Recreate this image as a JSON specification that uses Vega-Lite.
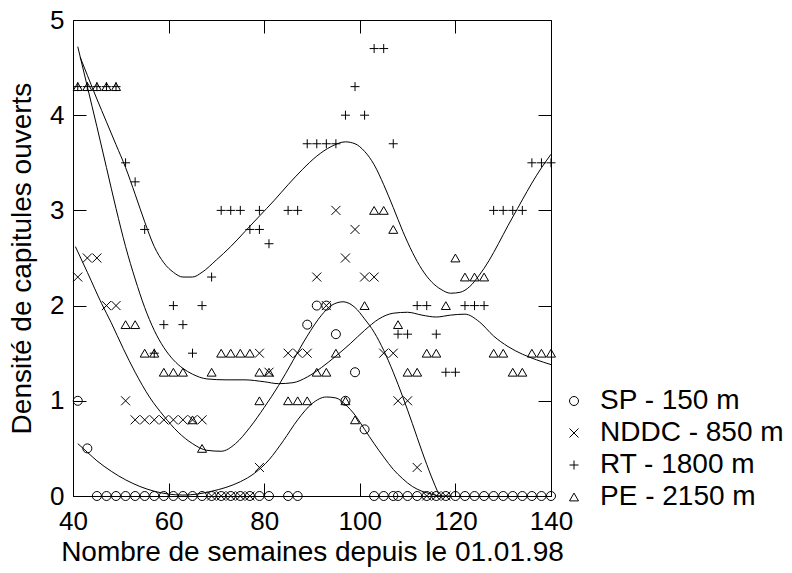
{
  "$schema": "https://vega.github.io/schema/vega-lite/v6.json",
  "width": 478,
  "height": 476,
  "autosize": {"type": "none"},
  "padding": {"left": 73, "top": 20, "right": 241, "bottom": 77},
  "background": "white",
  "config": {
    "view": {"stroke": "black", "strokeWidth": 1},
    "font": "Liberation Sans",
    "axis": {
      "grid": false,
      "domain": false,
      "tickColor": "black",
      "tickSize": -13,
      "tickWidth": 1,
      "labelFont": "Liberation Sans",
      "labelFontSize": 26,
      "labelColor": "black",
      "titleFont": "Liberation Sans",
      "titleFontSize": 28,
      "titleFontWeight": "normal",
      "titleColor": "black"
    },
    "legend": {
      "labelFont": "Liberation Sans",
      "labelFontSize": 28,
      "labelColor": "black",
      "labelLimit": 0,
      "padding": 0,
      "rowPadding": 4,
      "labelOffset": 12,
      "symbolStrokeColor": "black",
      "symbolStrokeWidth": 1,
      "symbolFillColor": "transparent"
    }
  },
  "datasets": {
    "points": [
      {"semaine": 41, "densite": 1.0, "site": "SP - 150 m"},
      {"semaine": 43, "densite": 0.5, "site": "SP - 150 m"},
      {"semaine": 45, "densite": 0, "site": "SP - 150 m"},
      {"semaine": 47, "densite": 0, "site": "SP - 150 m"},
      {"semaine": 49, "densite": 0, "site": "SP - 150 m"},
      {"semaine": 51, "densite": 0, "site": "SP - 150 m"},
      {"semaine": 53, "densite": 0, "site": "SP - 150 m"},
      {"semaine": 55, "densite": 0, "site": "SP - 150 m"},
      {"semaine": 57, "densite": 0, "site": "SP - 150 m"},
      {"semaine": 59, "densite": 0, "site": "SP - 150 m"},
      {"semaine": 61, "densite": 0, "site": "SP - 150 m"},
      {"semaine": 63, "densite": 0, "site": "SP - 150 m"},
      {"semaine": 65, "densite": 0, "site": "SP - 150 m"},
      {"semaine": 67, "densite": 0, "site": "SP - 150 m"},
      {"semaine": 69, "densite": 0, "site": "SP - 150 m"},
      {"semaine": 71, "densite": 0, "site": "SP - 150 m"},
      {"semaine": 73, "densite": 0, "site": "SP - 150 m"},
      {"semaine": 75, "densite": 0, "site": "SP - 150 m"},
      {"semaine": 77, "densite": 0, "site": "SP - 150 m"},
      {"semaine": 79, "densite": 0, "site": "SP - 150 m"},
      {"semaine": 81, "densite": 0, "site": "SP - 150 m"},
      {"semaine": 85, "densite": 0, "site": "SP - 150 m"},
      {"semaine": 87, "densite": 0, "site": "SP - 150 m"},
      {"semaine": 89, "densite": 1.8, "site": "SP - 150 m"},
      {"semaine": 91, "densite": 2.0, "site": "SP - 150 m"},
      {"semaine": 93, "densite": 2.0, "site": "SP - 150 m"},
      {"semaine": 95, "densite": 1.7, "site": "SP - 150 m"},
      {"semaine": 97, "densite": 1.0, "site": "SP - 150 m"},
      {"semaine": 99, "densite": 1.3, "site": "SP - 150 m"},
      {"semaine": 101, "densite": 0.7, "site": "SP - 150 m"},
      {"semaine": 103, "densite": 0, "site": "SP - 150 m"},
      {"semaine": 105, "densite": 0, "site": "SP - 150 m"},
      {"semaine": 107, "densite": 0, "site": "SP - 150 m"},
      {"semaine": 108, "densite": 0, "site": "SP - 150 m"},
      {"semaine": 110, "densite": 0, "site": "SP - 150 m"},
      {"semaine": 112, "densite": 0, "site": "SP - 150 m"},
      {"semaine": 114, "densite": 0, "site": "SP - 150 m"},
      {"semaine": 116, "densite": 0, "site": "SP - 150 m"},
      {"semaine": 118, "densite": 0, "site": "SP - 150 m"},
      {"semaine": 120, "densite": 0, "site": "SP - 150 m"},
      {"semaine": 122, "densite": 0, "site": "SP - 150 m"},
      {"semaine": 124, "densite": 0, "site": "SP - 150 m"},
      {"semaine": 126, "densite": 0, "site": "SP - 150 m"},
      {"semaine": 128, "densite": 0, "site": "SP - 150 m"},
      {"semaine": 130, "densite": 0, "site": "SP - 150 m"},
      {"semaine": 132, "densite": 0, "site": "SP - 150 m"},
      {"semaine": 134, "densite": 0, "site": "SP - 150 m"},
      {"semaine": 136, "densite": 0, "site": "SP - 150 m"},
      {"semaine": 138, "densite": 0, "site": "SP - 150 m"},
      {"semaine": 140, "densite": 0, "site": "SP - 150 m"},

      {"semaine": 41, "densite": 2.3, "site": "NDDC - 850 m"},
      {"semaine": 43, "densite": 2.5, "site": "NDDC - 850 m"},
      {"semaine": 45, "densite": 2.5, "site": "NDDC - 850 m"},
      {"semaine": 47, "densite": 2.0, "site": "NDDC - 850 m"},
      {"semaine": 49, "densite": 2.0, "site": "NDDC - 850 m"},
      {"semaine": 51, "densite": 1.0, "site": "NDDC - 850 m"},
      {"semaine": 53, "densite": 0.8, "site": "NDDC - 850 m"},
      {"semaine": 55, "densite": 0.8, "site": "NDDC - 850 m"},
      {"semaine": 57, "densite": 0.8, "site": "NDDC - 850 m"},
      {"semaine": 59, "densite": 0.8, "site": "NDDC - 850 m"},
      {"semaine": 61, "densite": 0.8, "site": "NDDC - 850 m"},
      {"semaine": 63, "densite": 0.8, "site": "NDDC - 850 m"},
      {"semaine": 65, "densite": 0.8, "site": "NDDC - 850 m"},
      {"semaine": 67, "densite": 0.8, "site": "NDDC - 850 m"},
      {"semaine": 69, "densite": 0, "site": "NDDC - 850 m"},
      {"semaine": 71, "densite": 0, "site": "NDDC - 850 m"},
      {"semaine": 73, "densite": 0, "site": "NDDC - 850 m"},
      {"semaine": 75, "densite": 0, "site": "NDDC - 850 m"},
      {"semaine": 77, "densite": 0, "site": "NDDC - 850 m"},
      {"semaine": 79, "densite": 0.3, "site": "NDDC - 850 m"},
      {"semaine": 79, "densite": 1.5, "site": "NDDC - 850 m"},
      {"semaine": 81, "densite": 1.3, "site": "NDDC - 850 m"},
      {"semaine": 85, "densite": 1.5, "site": "NDDC - 850 m"},
      {"semaine": 87, "densite": 1.5, "site": "NDDC - 850 m"},
      {"semaine": 89, "densite": 1.5, "site": "NDDC - 850 m"},
      {"semaine": 91, "densite": 2.3, "site": "NDDC - 850 m"},
      {"semaine": 93, "densite": 2.0, "site": "NDDC - 850 m"},
      {"semaine": 95, "densite": 3.0, "site": "NDDC - 850 m"},
      {"semaine": 97, "densite": 2.5, "site": "NDDC - 850 m"},
      {"semaine": 99, "densite": 2.8, "site": "NDDC - 850 m"},
      {"semaine": 101, "densite": 2.3, "site": "NDDC - 850 m"},
      {"semaine": 103, "densite": 2.3, "site": "NDDC - 850 m"},
      {"semaine": 105, "densite": 1.5, "site": "NDDC - 850 m"},
      {"semaine": 107, "densite": 1.5, "site": "NDDC - 850 m"},
      {"semaine": 108, "densite": 1.0, "site": "NDDC - 850 m"},
      {"semaine": 110, "densite": 1.0, "site": "NDDC - 850 m"},
      {"semaine": 112, "densite": 0.3, "site": "NDDC - 850 m"},
      {"semaine": 114, "densite": 0, "site": "NDDC - 850 m"},
      {"semaine": 116, "densite": 0, "site": "NDDC - 850 m"},
      {"semaine": 118, "densite": 0, "site": "NDDC - 850 m"},

      {"semaine": 41, "densite": 4.3, "site": "RT - 1800 m"},
      {"semaine": 43, "densite": 4.3, "site": "RT - 1800 m"},
      {"semaine": 45, "densite": 4.3, "site": "RT - 1800 m"},
      {"semaine": 47, "densite": 4.3, "site": "RT - 1800 m"},
      {"semaine": 49, "densite": 4.3, "site": "RT - 1800 m"},
      {"semaine": 51, "densite": 3.5, "site": "RT - 1800 m"},
      {"semaine": 53, "densite": 3.3, "site": "RT - 1800 m"},
      {"semaine": 55, "densite": 2.8, "site": "RT - 1800 m"},
      {"semaine": 57, "densite": 1.5, "site": "RT - 1800 m"},
      {"semaine": 59, "densite": 1.8, "site": "RT - 1800 m"},
      {"semaine": 61, "densite": 2.0, "site": "RT - 1800 m"},
      {"semaine": 63, "densite": 1.8, "site": "RT - 1800 m"},
      {"semaine": 65, "densite": 1.5, "site": "RT - 1800 m"},
      {"semaine": 67, "densite": 2.0, "site": "RT - 1800 m"},
      {"semaine": 69, "densite": 2.3, "site": "RT - 1800 m"},
      {"semaine": 71, "densite": 3.0, "site": "RT - 1800 m"},
      {"semaine": 73, "densite": 3.0, "site": "RT - 1800 m"},
      {"semaine": 75, "densite": 3.0, "site": "RT - 1800 m"},
      {"semaine": 77, "densite": 2.8, "site": "RT - 1800 m"},
      {"semaine": 79, "densite": 2.8, "site": "RT - 1800 m"},
      {"semaine": 79, "densite": 3.0, "site": "RT - 1800 m"},
      {"semaine": 81, "densite": 2.65, "site": "RT - 1800 m"},
      {"semaine": 85, "densite": 3.0, "site": "RT - 1800 m"},
      {"semaine": 87, "densite": 3.0, "site": "RT - 1800 m"},
      {"semaine": 89, "densite": 3.7, "site": "RT - 1800 m"},
      {"semaine": 91, "densite": 3.7, "site": "RT - 1800 m"},
      {"semaine": 93, "densite": 3.7, "site": "RT - 1800 m"},
      {"semaine": 95, "densite": 3.7, "site": "RT - 1800 m"},
      {"semaine": 97, "densite": 4.0, "site": "RT - 1800 m"},
      {"semaine": 99, "densite": 4.3, "site": "RT - 1800 m"},
      {"semaine": 101, "densite": 4.0, "site": "RT - 1800 m"},
      {"semaine": 103, "densite": 4.7, "site": "RT - 1800 m"},
      {"semaine": 105, "densite": 4.7, "site": "RT - 1800 m"},
      {"semaine": 107, "densite": 3.7, "site": "RT - 1800 m"},
      {"semaine": 108, "densite": 1.7, "site": "RT - 1800 m"},
      {"semaine": 110, "densite": 1.7, "site": "RT - 1800 m"},
      {"semaine": 112, "densite": 2.0, "site": "RT - 1800 m"},
      {"semaine": 114, "densite": 2.0, "site": "RT - 1800 m"},
      {"semaine": 116, "densite": 1.7, "site": "RT - 1800 m"},
      {"semaine": 118, "densite": 1.3, "site": "RT - 1800 m"},
      {"semaine": 120, "densite": 1.3, "site": "RT - 1800 m"},
      {"semaine": 122, "densite": 2.0, "site": "RT - 1800 m"},
      {"semaine": 124, "densite": 2.0, "site": "RT - 1800 m"},
      {"semaine": 126, "densite": 2.0, "site": "RT - 1800 m"},
      {"semaine": 128, "densite": 3.0, "site": "RT - 1800 m"},
      {"semaine": 130, "densite": 3.0, "site": "RT - 1800 m"},
      {"semaine": 132, "densite": 3.0, "site": "RT - 1800 m"},
      {"semaine": 134, "densite": 3.0, "site": "RT - 1800 m"},
      {"semaine": 136, "densite": 3.5, "site": "RT - 1800 m"},
      {"semaine": 138, "densite": 3.5, "site": "RT - 1800 m"},
      {"semaine": 140, "densite": 3.5, "site": "RT - 1800 m"},

      {"semaine": 41, "densite": 4.3, "site": "PE - 2150 m"},
      {"semaine": 43, "densite": 4.3, "site": "PE - 2150 m"},
      {"semaine": 45, "densite": 4.3, "site": "PE - 2150 m"},
      {"semaine": 47, "densite": 4.3, "site": "PE - 2150 m"},
      {"semaine": 49, "densite": 4.3, "site": "PE - 2150 m"},
      {"semaine": 51, "densite": 1.8, "site": "PE - 2150 m"},
      {"semaine": 53, "densite": 1.8, "site": "PE - 2150 m"},
      {"semaine": 55, "densite": 1.5, "site": "PE - 2150 m"},
      {"semaine": 57, "densite": 1.5, "site": "PE - 2150 m"},
      {"semaine": 59, "densite": 1.3, "site": "PE - 2150 m"},
      {"semaine": 61, "densite": 1.3, "site": "PE - 2150 m"},
      {"semaine": 63, "densite": 1.3, "site": "PE - 2150 m"},
      {"semaine": 65, "densite": 0.8, "site": "PE - 2150 m"},
      {"semaine": 67, "densite": 0.5, "site": "PE - 2150 m"},
      {"semaine": 69, "densite": 1.3, "site": "PE - 2150 m"},
      {"semaine": 71, "densite": 1.5, "site": "PE - 2150 m"},
      {"semaine": 73, "densite": 1.5, "site": "PE - 2150 m"},
      {"semaine": 75, "densite": 1.5, "site": "PE - 2150 m"},
      {"semaine": 77, "densite": 1.5, "site": "PE - 2150 m"},
      {"semaine": 79, "densite": 1.3, "site": "PE - 2150 m"},
      {"semaine": 79, "densite": 1.0, "site": "PE - 2150 m"},
      {"semaine": 81, "densite": 1.3, "site": "PE - 2150 m"},
      {"semaine": 85, "densite": 1.0, "site": "PE - 2150 m"},
      {"semaine": 87, "densite": 1.0, "site": "PE - 2150 m"},
      {"semaine": 89, "densite": 1.0, "site": "PE - 2150 m"},
      {"semaine": 91, "densite": 1.3, "site": "PE - 2150 m"},
      {"semaine": 93, "densite": 1.3, "site": "PE - 2150 m"},
      {"semaine": 95, "densite": 1.5, "site": "PE - 2150 m"},
      {"semaine": 97, "densite": 1.0, "site": "PE - 2150 m"},
      {"semaine": 99, "densite": 0.8, "site": "PE - 2150 m"},
      {"semaine": 101, "densite": 2.0, "site": "PE - 2150 m"},
      {"semaine": 103, "densite": 3.0, "site": "PE - 2150 m"},
      {"semaine": 105, "densite": 3.0, "site": "PE - 2150 m"},
      {"semaine": 107, "densite": 2.8, "site": "PE - 2150 m"},
      {"semaine": 108, "densite": 1.8, "site": "PE - 2150 m"},
      {"semaine": 110, "densite": 1.3, "site": "PE - 2150 m"},
      {"semaine": 112, "densite": 1.3, "site": "PE - 2150 m"},
      {"semaine": 114, "densite": 1.5, "site": "PE - 2150 m"},
      {"semaine": 116, "densite": 1.5, "site": "PE - 2150 m"},
      {"semaine": 118, "densite": 2.0, "site": "PE - 2150 m"},
      {"semaine": 120, "densite": 2.5, "site": "PE - 2150 m"},
      {"semaine": 122, "densite": 2.3, "site": "PE - 2150 m"},
      {"semaine": 124, "densite": 2.3, "site": "PE - 2150 m"},
      {"semaine": 126, "densite": 2.3, "site": "PE - 2150 m"},
      {"semaine": 128, "densite": 1.5, "site": "PE - 2150 m"},
      {"semaine": 130, "densite": 1.5, "site": "PE - 2150 m"},
      {"semaine": 132, "densite": 1.3, "site": "PE - 2150 m"},
      {"semaine": 134, "densite": 1.3, "site": "PE - 2150 m"},
      {"semaine": 136, "densite": 1.5, "site": "PE - 2150 m"},
      {"semaine": 138, "densite": 1.5, "site": "PE - 2150 m"},
      {"semaine": 140, "densite": 1.5, "site": "PE - 2150 m"}
    ],
    "curves": [
      {"semaine": 41.5, "densite": 4.61, "courbe": "RT"},
      {"semaine": 43, "densite": 4.42, "courbe": "RT"},
      {"semaine": 45, "densite": 4.17, "courbe": "RT"},
      {"semaine": 47, "densite": 3.93, "courbe": "RT"},
      {"semaine": 49, "densite": 3.69, "courbe": "RT"},
      {"semaine": 51, "densite": 3.45, "courbe": "RT"},
      {"semaine": 53, "densite": 3.17, "courbe": "RT"},
      {"semaine": 55, "densite": 2.88, "courbe": "RT"},
      {"semaine": 57, "densite": 2.62, "courbe": "RT"},
      {"semaine": 59, "densite": 2.45, "courbe": "RT"},
      {"semaine": 61, "densite": 2.35, "courbe": "RT"},
      {"semaine": 63, "densite": 2.3, "courbe": "RT"},
      {"semaine": 65, "densite": 2.3, "courbe": "RT"},
      {"semaine": 67, "densite": 2.35, "courbe": "RT"},
      {"semaine": 70, "densite": 2.48, "courbe": "RT"},
      {"semaine": 73, "densite": 2.62, "courbe": "RT"},
      {"semaine": 76, "densite": 2.78, "courbe": "RT"},
      {"semaine": 79, "densite": 2.94, "courbe": "RT"},
      {"semaine": 82, "densite": 3.1, "courbe": "RT"},
      {"semaine": 85, "densite": 3.27, "courbe": "RT"},
      {"semaine": 88, "densite": 3.43, "courbe": "RT"},
      {"semaine": 91, "densite": 3.57, "courbe": "RT"},
      {"semaine": 94, "densite": 3.67, "courbe": "RT"},
      {"semaine": 97, "densite": 3.72, "courbe": "RT"},
      {"semaine": 99, "densite": 3.7, "courbe": "RT"},
      {"semaine": 101, "densite": 3.62, "courbe": "RT"},
      {"semaine": 103, "densite": 3.48, "courbe": "RT"},
      {"semaine": 105, "densite": 3.27, "courbe": "RT"},
      {"semaine": 107, "densite": 3.03, "courbe": "RT"},
      {"semaine": 109, "densite": 2.78, "courbe": "RT"},
      {"semaine": 111, "densite": 2.56, "courbe": "RT"},
      {"semaine": 113, "densite": 2.38, "courbe": "RT"},
      {"semaine": 115, "densite": 2.25, "courbe": "RT"},
      {"semaine": 117, "densite": 2.17, "courbe": "RT"},
      {"semaine": 119, "densite": 2.13, "courbe": "RT"},
      {"semaine": 121, "densite": 2.14, "courbe": "RT"},
      {"semaine": 123, "densite": 2.2, "courbe": "RT"},
      {"semaine": 125, "densite": 2.32, "courbe": "RT"},
      {"semaine": 127, "densite": 2.47, "courbe": "RT"},
      {"semaine": 129, "densite": 2.65, "courbe": "RT"},
      {"semaine": 131, "densite": 2.84, "courbe": "RT"},
      {"semaine": 133, "densite": 3.02, "courbe": "RT"},
      {"semaine": 135, "densite": 3.2, "courbe": "RT"},
      {"semaine": 137, "densite": 3.37, "courbe": "RT"},
      {"semaine": 139, "densite": 3.52, "courbe": "RT"},
      {"semaine": 140, "densite": 3.59, "courbe": "RT"},

      {"semaine": 41, "densite": 4.72, "courbe": "PE"},
      {"semaine": 43, "densite": 4.3, "courbe": "PE"},
      {"semaine": 45, "densite": 3.88, "courbe": "PE"},
      {"semaine": 47, "densite": 3.45, "courbe": "PE"},
      {"semaine": 49, "densite": 3.02, "courbe": "PE"},
      {"semaine": 51, "densite": 2.62, "courbe": "PE"},
      {"semaine": 53, "densite": 2.28, "courbe": "PE"},
      {"semaine": 55, "densite": 1.98, "courbe": "PE"},
      {"semaine": 57, "densite": 1.74, "courbe": "PE"},
      {"semaine": 59, "densite": 1.56, "courbe": "PE"},
      {"semaine": 61, "densite": 1.43, "courbe": "PE"},
      {"semaine": 63, "densite": 1.34, "courbe": "PE"},
      {"semaine": 65, "densite": 1.28, "courbe": "PE"},
      {"semaine": 68, "densite": 1.23, "courbe": "PE"},
      {"semaine": 72, "densite": 1.22, "courbe": "PE"},
      {"semaine": 76, "densite": 1.22, "courbe": "PE"},
      {"semaine": 80, "densite": 1.2, "courbe": "PE"},
      {"semaine": 83, "densite": 1.18, "courbe": "PE"},
      {"semaine": 86, "densite": 1.19, "courbe": "PE"},
      {"semaine": 89, "densite": 1.25, "courbe": "PE"},
      {"semaine": 92, "densite": 1.35, "courbe": "PE"},
      {"semaine": 95, "densite": 1.47, "courbe": "PE"},
      {"semaine": 98, "densite": 1.6, "courbe": "PE"},
      {"semaine": 101, "densite": 1.74, "courbe": "PE"},
      {"semaine": 104, "densite": 1.86, "courbe": "PE"},
      {"semaine": 107, "densite": 1.92, "courbe": "PE"},
      {"semaine": 110, "densite": 1.93, "courbe": "PE"},
      {"semaine": 113, "densite": 1.9, "courbe": "PE"},
      {"semaine": 116, "densite": 1.88, "courbe": "PE"},
      {"semaine": 119, "densite": 1.9, "courbe": "PE"},
      {"semaine": 122, "densite": 1.91, "courbe": "PE"},
      {"semaine": 125, "densite": 1.83, "courbe": "PE"},
      {"semaine": 128, "densite": 1.68, "courbe": "PE"},
      {"semaine": 131, "densite": 1.57, "courbe": "PE"},
      {"semaine": 134, "densite": 1.49, "courbe": "PE"},
      {"semaine": 137, "densite": 1.43, "courbe": "PE"},
      {"semaine": 140, "densite": 1.38, "courbe": "PE"},

      {"semaine": 40.5, "densite": 2.62, "courbe": "NDDC"},
      {"semaine": 43, "densite": 2.35, "courbe": "NDDC"},
      {"semaine": 46, "densite": 2.02, "courbe": "NDDC"},
      {"semaine": 48, "densite": 1.82, "courbe": "NDDC"},
      {"semaine": 50.5, "densite": 1.55, "courbe": "NDDC"},
      {"semaine": 53, "densite": 1.3, "courbe": "NDDC"},
      {"semaine": 56, "densite": 1.04, "courbe": "NDDC"},
      {"semaine": 59, "densite": 0.84, "courbe": "NDDC"},
      {"semaine": 62, "densite": 0.67, "courbe": "NDDC"},
      {"semaine": 65, "densite": 0.55, "courbe": "NDDC"},
      {"semaine": 68, "densite": 0.48, "courbe": "NDDC"},
      {"semaine": 71, "densite": 0.47, "courbe": "NDDC"},
      {"semaine": 74, "densite": 0.55, "courbe": "NDDC"},
      {"semaine": 77, "densite": 0.72, "courbe": "NDDC"},
      {"semaine": 80, "densite": 0.93, "courbe": "NDDC"},
      {"semaine": 83, "densite": 1.16, "courbe": "NDDC"},
      {"semaine": 86, "densite": 1.42, "courbe": "NDDC"},
      {"semaine": 89, "densite": 1.68, "courbe": "NDDC"},
      {"semaine": 92, "densite": 1.9, "courbe": "NDDC"},
      {"semaine": 94, "densite": 2.0, "courbe": "NDDC"},
      {"semaine": 96.5, "densite": 2.04, "courbe": "NDDC"},
      {"semaine": 99, "densite": 1.98, "courbe": "NDDC"},
      {"semaine": 101, "densite": 1.86, "courbe": "NDDC"},
      {"semaine": 103, "densite": 1.72, "courbe": "NDDC"},
      {"semaine": 105, "densite": 1.53, "courbe": "NDDC"},
      {"semaine": 107, "densite": 1.3, "courbe": "NDDC"},
      {"semaine": 109, "densite": 1.04, "courbe": "NDDC"},
      {"semaine": 111, "densite": 0.76, "courbe": "NDDC"},
      {"semaine": 113, "densite": 0.47, "courbe": "NDDC"},
      {"semaine": 115, "densite": 0.2, "courbe": "NDDC"},
      {"semaine": 116.5, "densite": 0.02, "courbe": "NDDC"},

      {"semaine": 41, "densite": 0.55, "courbe": "SP"},
      {"semaine": 43, "densite": 0.46, "courbe": "SP"},
      {"semaine": 45, "densite": 0.37, "courbe": "SP"},
      {"semaine": 48, "densite": 0.26, "courbe": "SP"},
      {"semaine": 51, "densite": 0.17, "courbe": "SP"},
      {"semaine": 54, "densite": 0.1, "courbe": "SP"},
      {"semaine": 57, "densite": 0.05, "courbe": "SP"},
      {"semaine": 60, "densite": 0.02, "courbe": "SP"},
      {"semaine": 63, "densite": 0.01, "courbe": "SP"},
      {"semaine": 66, "densite": 0.02, "courbe": "SP"},
      {"semaine": 69, "densite": 0.05, "courbe": "SP"},
      {"semaine": 72, "densite": 0.09, "courbe": "SP"},
      {"semaine": 75, "densite": 0.15, "courbe": "SP"},
      {"semaine": 78, "densite": 0.24, "courbe": "SP"},
      {"semaine": 81, "densite": 0.38, "courbe": "SP"},
      {"semaine": 84, "densite": 0.58, "courbe": "SP"},
      {"semaine": 87, "densite": 0.8, "courbe": "SP"},
      {"semaine": 90, "densite": 0.97, "courbe": "SP"},
      {"semaine": 93, "densite": 1.04, "courbe": "SP"},
      {"semaine": 95, "densite": 1.03, "courbe": "SP"},
      {"semaine": 97, "densite": 0.96, "courbe": "SP"},
      {"semaine": 99, "densite": 0.85, "courbe": "SP"},
      {"semaine": 101, "densite": 0.7, "courbe": "SP"},
      {"semaine": 103, "densite": 0.55, "courbe": "SP"},
      {"semaine": 105, "densite": 0.41, "courbe": "SP"},
      {"semaine": 107, "densite": 0.28, "courbe": "SP"},
      {"semaine": 109, "densite": 0.18, "courbe": "SP"},
      {"semaine": 111, "densite": 0.1, "courbe": "SP"},
      {"semaine": 113, "densite": 0.05, "courbe": "SP"},
      {"semaine": 115, "densite": 0.02, "courbe": "SP"},
      {"semaine": 117, "densite": 0.0, "courbe": "SP"},
      {"semaine": 119, "densite": 0.0, "courbe": "SP"}
    ]
  },
  "layer": [
    {
      "data": {"name": "curves"},
      "mark": {"type": "line", "color": "black", "strokeWidth": 1, "interpolate": "monotone"},
      "encoding": {
        "x": {
          "field": "semaine", "type": "quantitative",
          "scale": {"domain": [40, 140], "nice": false, "zero": false},
          "axis": {"orient": "bottom", "values": [40, 60, 80, 100, 120, 140], "title": "Nombre de semaines depuis le 01.01.98", "labelFlush": false, "labelPadding": 25, "titlePadding": 4}
        },
        "y": {
          "field": "densite", "type": "quantitative",
          "scale": {"domain": [0, 5], "nice": false},
          "axis": {"orient": "left", "values": [0, 1, 2, 3, 4, 5], "title": "Densité de capitules ouverts", "labelFlush": false, "labelPadding": 22, "titlePadding": 13}
        },
        "detail": {"field": "courbe"}
      }
    },
    {
      "data": {"name": "points"},
      "mark": {"type": "point", "filled": false, "color": "black", "strokeWidth": 1, "opacity": 1},
      "encoding": {
        "x": {
          "field": "semaine", "type": "quantitative",
          "axis": {"orient": "top", "values": [40, 60, 80, 100, 120, 140], "labels": false, "title": null}
        },
        "y": {
          "field": "densite", "type": "quantitative",
          "axis": {"orient": "right", "values": [0, 1, 2, 3, 4, 5], "labels": false, "title": null}
        },
        "shape": {
          "field": "site", "type": "nominal",
          "scale": {
            "domain": ["SP - 150 m", "NDDC - 850 m", "RT - 1800 m", "PE - 2150 m"],
            "range": ["circle", "M-1,-1L1,1M-1,1L1,-1", "M-1,0L1,0M0,-1L0,1", "triangle-up"]
          },
          "legend": {"title": null, "orient": "none", "legendX": 487, "legendY": 367}
        },
        "size": {
          "field": "site", "type": "nominal",
          "scale": {
            "domain": ["SP - 150 m", "NDDC - 850 m", "RT - 1800 m", "PE - 2150 m"],
            "range": [81, 81, 121, 100]
          },
          "legend": {"title": null, "orient": "none", "legendX": 487, "legendY": 367}
        }
      }
    }
  ],
  "resolve": {"axis": {"x": "independent", "y": "independent"}}
}
